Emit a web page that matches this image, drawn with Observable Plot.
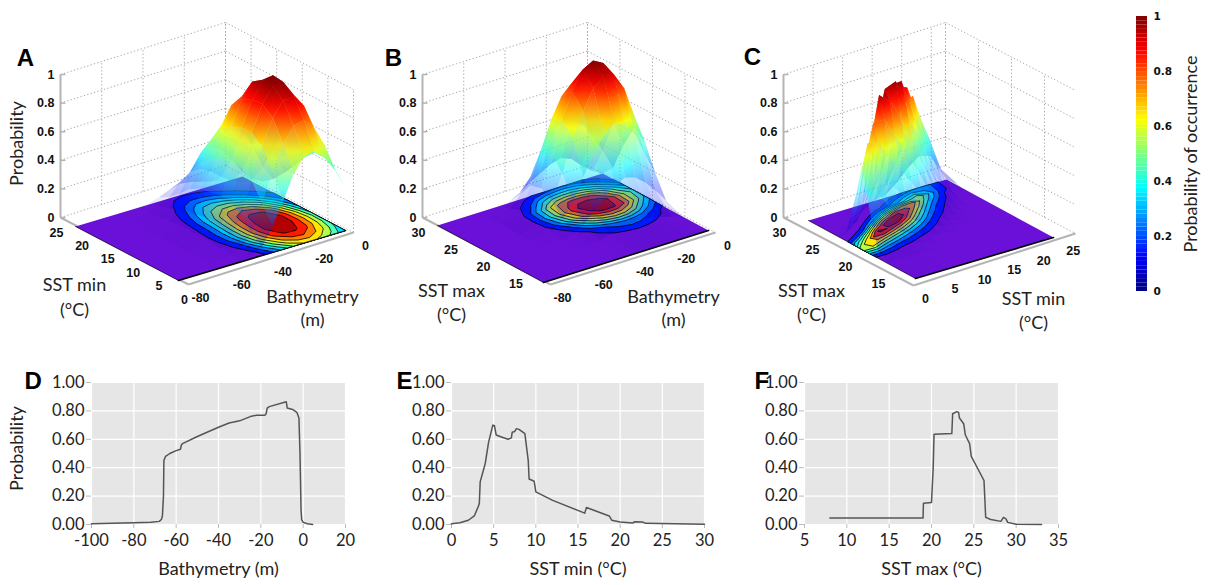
<!DOCTYPE html>
<html><head><meta charset="utf-8">
<script src="https://cdn.jsdelivr.net/npm/d3@7"></script>
<script src="https://cdn.jsdelivr.net/npm/@observablehq/plot@0.6"></script>
<style>html,body{margin:0;background:#fff}#fig{position:relative;width:1210px;height:585px;overflow:hidden}#fig svg{position:absolute;background:transparent;overflow:visible}</style>
</head><body><div id="fig"></div>
<script>
// ---- Surface tables (rows: y axis value, columns: x axis value)
const aBathy=[-80,-60,-50,-45,-40,-35,-30,-25,-20,-15,-10,-5,0];
const aSst=[0,2.5,5,7.5,10,12.5,15,17.5,20,22.5,25];
const aProb=[
[0,0,0,.02,.06,.18,.33,.50,.60,.62,.55,.45,.30],
[0,0,.01,.04,.12,.30,.50,.68,.78,.80,.72,.58,.38],
[0,0,.02,.08,.2,.42,.64,.82,.92,.93,.84,.66,.43],
[0,0,.03,.11,.26,.48,.70,.88,.98,.99,.88,.68,.43],
[0,0,.03,.12,.27,.48,.70,.87,.99,1,.88,.64,.36],
[0,0,.03,.11,.25,.46,.67,.84,.94,.93,.78,.52,.26],
[0,0,.03,.1,.24,.43,.62,.76,.8,.74,.58,.36,.175],
[0,0,.02,.08,.2,.36,.5,.58,.58,.5,.36,.2,.095],
[0,0,.01,.05,.13,.26,.37,.39,.35,.26,.15,.08,.04],
[0,0,.01,.03,.07,.15,.2,.2,.16,.1,.05,.02,.01],
[0,0,0,.01,.03,.06,.08,.07,.05,.03,.01,0,0]];
const bBathy=[-80,-60,-50,-45,-40,-35,-30,-25,-20,-15,-10,-5,0];
const bSst=[10,15,18,20,22,24,26,28,30];
const bProb=[
[0,0,0,0,0,0,0,0,0,0,0,0,0],
[0,0,0,0,.01,.03,.05,.06,.07,.06,.04,.02,0],
[0,0,0,.02,.06,.13,.2,.26,.3,.28,.22,.14,.05],
[0,0,.02,.08,.18,.33,.47,.58,.64,.62,.52,.35,.2],
[0,0,.05,.17,.34,.55,.73,.87,.93,.92,.8,.58,.38],
[0,0,.06,.22,.43,.66,.83,.96,1,.96,.82,.6,.44],
[0,0,.05,.2,.4,.62,.76,.83,.83,.78,.65,.45,.28],
[0,0,.02,.1,.2,.36,.47,.5,.5,.45,.35,.22,.08],
[0,0,0,.01,.05,.1,.14,.18,.2,.17,.1,.04,0]];
const cMin=[0,2,4,6,8,10,12,14,16,18,20,22,25];
const cMax=[10,15,17,18,19,20,21,22,23,24,25,26,27,28,30];
const cProb=[
[0,0,0,0,0,0,0,0,0,0,0,0,0],
[.01,.01,.01,.01,0,0,0,0,0,0,0,0,0],
[.05,.06,.05,.03,.02,0,0,0,0,0,0,0,0],
[.2,.18,.13,.09,.06,.03,.01,0,0,0,0,0,0],
[.38,.38,.27,.2,.14,.09,.05,.02,0,0,0,0,0],
[.58,.6,.46,.36,.27,.19,.12,.06,.02,0,0,0,0],
[.38,.7,.68,.55,.44,.33,.22,.12,.05,.02,0,0,0],
[.21,.48,.8,.8,.66,.52,.37,.22,.1,.04,.01,0,0],
[.05,.2,.55,.95,.88,.74,.56,.36,.18,.08,.02,0,0],
[0,.05,.2,.62,.95,.98,.78,.52,.3,.13,.05,.01,0],
[0,.01,.05,.25,.68,.93,.94,.7,.44,.22,.09,.02,0],
[0,0,.01,.08,.28,.62,.88,.85,.62,.35,.17,.04,0],
[0,0,0,.03,.1,.25,.48,.7,.75,.5,.28,.08,0],
[0,0,0,0,.02,.06,.14,.28,.45,.58,.38,.15,.01],
[0,0,0,0,0,0,0,.02,.08,.16,.22,.2,0]];
// ---- Response curves
const dX=[-100,-80,-72,-68,-67,-66.5,-66,-65.8,-65,-63,-60,-58,-57.5,-57,-50,-40,-35,-30,-25,-22,-18,-17.5,-17,-16,-8,-7.5,-5,-3,-2,-1.5,-1,-.7,0,2,4.5];
const dY=[.005,.012,.016,.022,.035,.06,.2,.45,.48,.5,.52,.53,.56,.57,.62,.685,.715,.73,.76,.77,.77,.78,.82,.83,.865,.82,.81,.79,.75,.5,.1,.035,.015,.005,0];
const eX=[0,1,2,2.7,3.2,3.3,3.4,4,4.4,4.9,5.1,5.3,6,6.7,7.1,7.2,7.5,7.7,8,8.7,9.1,9.2,9.8,10,12,15.8,16,18.7,19,20,21.5,21.7,22.7,23,30];
const eY=[.005,.012,.03,.06,.13,.15,.3,.43,.58,.7,.695,.63,.615,.6,.61,.65,.655,.675,.67,.64,.45,.32,.305,.23,.17,.08,.12,.06,.03,.018,.01,.02,.017,.008,.001];
const fX=[8,19,19.05,20,20.2,20.3,22.4,22.5,23,23.2,23.3,23.8,24,24.5,24.7,26.2,26.4,27,28.2,28.5,28.8,29,30,33];
const fY=[.045,.045,.15,.155,.4,.635,.64,.78,.795,.79,.75,.71,.63,.57,.48,.31,.05,.035,.022,.05,.04,.015,.002,0];
const probTicks=[0,.2,.4,.6,.8,1];
const bathyTicks=[-80,-60,-40,-20,0];
const contourLevels=[.1,.2,.3,.4,.5,.6,.7,.8,.9];

const jetStops=[0,.125,.375,.625,.875,1];
const jetColors=["#000080","#0000ff","#00ffff","#ffff00","#ff0000","#800000"];
const jet=d3.scaleLinear().domain(jetStops).range(jetColors).clamp(true);
const SANS="Lato, 'Open Sans', sans-serif", BOLD="'Liberation Sans', Arial, sans-serif";
const fig=document.getElementById("fig");
function place(svg,left,top){svg.style.left=left+"px";svg.style.top=top+"px";fig.appendChild(svg);}

function surface(cfg){
  const {id,L,W,xs,ys,rows,xDom,yDom,xBox,yBox,floor,box,xTicks,yTicks,texts}=cfg;
  const H=345, Z=143;
  const mix=(f,a,b)=>[f.front[0]+a*(f.right[0]-f.front[0])+b*(f.left[0]-f.front[0]),f.front[1]+a*(f.right[1]-f.front[1])+b*(f.left[1]-f.front[1])];
  const ground=(xv,yv)=>mix(floor,(xv-xDom[0])/(xDom[1]-xDom[0]),(yv-yDom[0])/(yDom[1]-yDom[0]));
  const bx=(xv,yv,p=0)=>{const q=mix(box,(xv-xBox[0])/(xBox[1]-xBox[0]),(yv-yBox[0])/(yBox[1]-yBox[0]));return [q[0],q[1]-p*Z];};
  const seg=(a,b)=>({x1:a[0],y1:a[1],x2:b[0],y2:b[1]});
  // walls
  const walls=[];
  for(const p of probTicks){walls.push(seg(bx(xBox[0],yBox[1],p),bx(xBox[1],yBox[1],p)));walls.push(seg(bx(xBox[1],yBox[1],p),bx(xBox[1],yBox[0],p)));}
  for(const t of xTicks) walls.push(seg(bx(t,yBox[1],0),bx(t,yBox[1],1)));
  for(const t of yTicks) walls.push(seg(bx(xBox[1],t,0),bx(xBox[1],t,1)));
  walls.push(seg(bx(xBox[1],yBox[1],0),bx(xBox[1],yBox[1],1)));
  // floor polygon
  const floorPts=[[xDom[0],yDom[0]],[xDom[1],yDom[0]],[xDom[1],yDom[1]],[xDom[0],yDom[1]],[xDom[0],yDom[0]]].map(d=>ground(d[0],d[1]));
  // contour rings
  const nx=xs.length, ny=ys.length;
  const cx=d3.scaleLinear().domain(xs.map((_,i)=>i+.5)).range(xs).clamp(true);
  const cy=d3.scaleLinear().domain(ys.map((_,i)=>i+.5)).range(ys).clamp(true);
  const rings=[]; let rid=0;
  for(const c of d3.contours().size([nx,ny]).thresholds(contourLevels)(rows.flat())){
    for(const poly of c.coordinates){
      rid++;
      for(const pt of poly[0]){const g=ground(cx(pt[0]),cy(pt[1]));rings.push({id:rid,px:g[0],py:g[1],f:jet(c.value+.05)});}
    }
  }
  // mesh faces, back to front
  const faces=[];
  for(let j=0;j<ny-1;j++)for(let i=0;i<nx-1;i++){
    const v=[[i,j],[i+1,j],[i+1,j+1],[i,j+1]].map(([a,b])=>{const g=ground(xs[a],ys[b]);const p=rows[b][a];return {sx:g[0],sy:g[1]-p*Z,gy:g[1],p};});
    const mx=d3.max(v,d=>d.p); if(mx<.005) continue;
    const m=d3.mean(v,d=>d.p);
    const lo=d3.least(v,d=>d.p), hi=d3.greatest(v,d=>d.p);
    faces.push({v,lo,hi,depth:d3.mean(v,d=>d.gy),alpha:Math.min(.95,m<.1?m*2.3:.12+m*1.1)});
  }
  faces.sort((a,b)=>a.depth-b.depth);
  const meshPts=[];
  faces.forEach((f,k)=>{for(const q of f.v)meshPts.push({id:k,px:q.sx,py:q.sy,f:`url(#${id}g${k})`,a:f.alpha});});
  const defsMark=()=>{
    const defs=d3.create("svg:defs");
    faces.forEach((f,k)=>{
      const g=defs.append("linearGradient").attr("id",`${id}g${k}`).attr("gradientUnits","userSpaceOnUse")
        .attr("x1",f.lo.sx-L).attr("y1",f.lo.sy).attr("x2",f.hi.sx-L).attr("y2",f.hi.sy);
      for(let t=0;t<=4;t++)g.append("stop").attr("offset",t/4).attr("stop-color",jet(f.lo.p+(f.hi.p-f.lo.p)*t/4));
    });
    return defs.node();
  };
  const zAxisTop=bx(xBox[0],yBox[1],1), zAxisBot=bx(xBox[0],yBox[1],0);
  const fr=bx(xBox[0],yBox[0]), ri=bx(xBox[1],yBox[0]), le=bx(xBox[0],yBox[1]);
  const tickX=xTicks.map(t=>{const a=bx(t,yBox[0]);return {t,a};});
  const tickY=yTicks.map(t=>{const a=bx(xBox[0],t);return {t,a};});
  const svg=Plot.plot({width:W,height:H,margin:0,style:{background:"transparent",color:"#111"},
    x:{domain:[L,L+W],range:[0,W],axis:null},y:{domain:[0,H],range:[0,H],axis:null},
    marks:[
      defsMark,
      Plot.link(walls,{x1:"x1",y1:"y1",x2:"x2",y2:"y2",stroke:"#a8a8a8",strokeWidth:1,strokeDasharray:"1.3,2.2"}),
      Plot.link([seg(zAxisTop,zAxisBot),seg(le,fr),seg(fr,ri)],{x1:"x1",y1:"y1",x2:"x2",y2:"y2",stroke:"#b4b4b4",strokeWidth:2}),
      Plot.link(probTicks,{x1:()=>zAxisBot[0],x2:()=>zAxisBot[0]+5,y1:d=>zAxisBot[1]-d*Z,y2:d=>zAxisBot[1]-d*Z,stroke:"#b4b4b4",strokeWidth:1.5}),
      Plot.line(floorPts,{x:"0",y:"1",fill:"#6a10d8",stroke:"none"}),
      Plot.line(floorPts.slice(0,2),{x:"0",y:"1",stroke:"#000",strokeWidth:1.6}),
      Plot.line([floorPts[0],floorPts[3]],{x:"0",y:"1",stroke:"#000",strokeWidth:.7}),
      Plot.line(rings,{x:"px",y:"py",z:"id",fill:{value:d=>d.f,scale:null},stroke:"#000",strokeWidth:.8}),
      Plot.line(meshPts,{x:"px",y:"py",z:"id",fill:{value:d=>d.f,scale:null},fillOpacity:{value:d=>d.a,scale:null},stroke:"none"}),
      Plot.text(probTicks,{x:()=>zAxisBot[0]-6,y:d=>zAxisBot[1]-d*Z,text:d=>String(d),textAnchor:"end",fontFamily:BOLD,fontWeight:"bold",fontSize:12.5}),
      Plot.text(tickX,{x:d=>d.a[0]+12,y:d=>d.a[1]+13,text:d=>String(d.t),fontFamily:BOLD,fontWeight:"bold",fontSize:12.5}),
      Plot.text(tickY,{x:d=>d.a[0]-4,y:d=>d.a[1]+15,text:d=>String(d.t),fontFamily:BOLD,fontWeight:"bold",fontSize:12.5}),
      Plot.text(texts,{x:"x",y:"y",text:"s",fontFamily:SANS,fontSize:18,fill:"#222"}),
      Plot.text([cfg.letter],{x:"x",y:"y",text:"s",fontFamily:BOLD,fontWeight:"bold",fontSize:24,fill:"#000"})
    ]});
  place(svg,L,0);
}

surface({id:"A",L:0,W:375,xs:aBathy,ys:aSst,rows:aProb,xDom:[-80,0],yDom:[0,25],xBox:[-80,0],yBox:[0,25],
  floor:{front:[178,280],right:[345,230],left:[75,226]},box:{front:[188,284],right:[353,232],left:[60,217]},
  xTicks:bathyTicks,yTicks:[0,5,10,15,20,25],letter:{x:25,y:58,s:"A"},
  texts:[{x:74,y:285,s:"SST min"},{x:74,y:310,s:"(°C)"},{x:312,y:297,s:"Bathymetry"},{x:312,y:320,s:"(m)"}]});
surface({id:"B",L:375,W:355,xs:bBathy,ys:bSst,rows:bProb,xDom:[-80,0],yDom:[10,30],xBox:[-80,0],yBox:[10.3,30],
  floor:{front:[543,282],right:[708,230],left:[437,225]},box:{front:[550,284],right:[715,232],left:[422,217]},
  xTicks:bathyTicks,yTicks:[15,20,25,30],letter:{x:393,y:58,s:"B"},
  texts:[{x:451,y:291,s:"SST max"},{x:451,y:315,s:"(°C)"},{x:673,y:297,s:"Bathymetry"},{x:673,y:320,s:"(m)"}]});
surface({id:"C",L:730,W:360,xs:cMin,ys:cMax,rows:cProb,xDom:[0,25],yDom:[10,30],xBox:[0,27.4],yBox:[10.3,30],
  floor:{front:[915,278],right:[1053,237],left:[808,220]},box:{front:[913,285],right:[1075,233],left:[783,217]},
  xTicks:[0,5,10,15,20,25],yTicks:[15,20,25,30],letter:{x:752,y:57,s:"C"},
  texts:[{x:811,y:291,s:"SST max"},{x:811,y:315,s:"(°C)"},{x:1033,y:299,s:"SST min"},{x:1033,y:323,s:"(°C)"}]});

function curve(cfg){
  const {L,W,mL,mR,xd,xt,xs,ys,label,letter,ylabel}=cfg;
  const T=350;
  const pts=xs.map((x,i)=>({x,y:ys[i]}));
  const svg=Plot.plot({width:W,height:235,marginLeft:mL,marginRight:mR,marginTop:32,marginBottom:61,style:{background:"transparent",color:"#222",fontFamily:SANS,fontSize:"16.5px",overflow:"visible"},
    x:{domain:xd},y:{domain:[0,1]},
    marks:[
      Plot.frame({fill:"#e6e6e6",stroke:null}),
      Plot.gridX({ticks:xt,stroke:"#fff",strokeOpacity:1,strokeWidth:1.2}),
      Plot.gridY({ticks:probTicks,stroke:"#fff",strokeOpacity:1,strokeWidth:1.2}),
      Plot.axisX({ticks:xt,tickSize:4,tickPadding:6,stroke:"#bbb",label:null,tickFormat:d=>String(d),fontSize:16.5,fill:"#222"}),
      Plot.axisY({ticks:probTicks,tickSize:5,tickPadding:2,stroke:"#bbb",label:null,tickFormat:d3.format(".2f"),fontSize:16.5,fill:"#222"}),
      Plot.line(pts,{x:"x",y:"y",stroke:"#555",strokeWidth:1.5}),
      Plot.text([label],{frameAnchor:"bottom",dy:50,text:d=>d,fontSize:18,fontFamily:SANS,fill:"#222"}),
      Plot.text([letter],{frameAnchor:"top-left",dx:cfg.lx,dy:-11,text:d=>d,fontFamily:BOLD,fontWeight:"bold",fontSize:24,fill:"#000"})
    ]});
  place(svg,L,T);
}
curve({L:0,W:375,mL:91,mR:30,xd:[-100,20],xt:[-100,-80,-60,-40,-20,0,20],xs:dX,ys:dY,label:"Bathymetry (m)",letter:"D",lx:-67});
curve({L:380,W:345,mL:71,mR:21,xd:[0,30],xt:[0,5,10,15,20,25,30],xs:eX,ys:eY,label:"SST min (°C)",letter:"E",lx:-55});
curve({L:720,W:360,mL:84,mR:22,xd:[5,35],xt:[5,10,15,20,25,30,35],xs:fX,ys:fY,label:"SST max (°C)",letter:"F",lx:-50});

// page-level labels and colour bar
const levels=d3.range(64).map(i=>i/64);
const bar=Plot.plot({width:90,height:320,margin:0,style:{background:"transparent",color:"#111"},
  x:{domain:[1120,1210],range:[0,90],axis:null},y:{domain:[0,1],range:[291,16],axis:null},
  color:{type:"linear",domain:jetStops,range:jetColors},
  marks:[
    Plot.rect(levels,{x1:()=>1136,x2:()=>1147,y1:d=>d,y2:d=>d+1/64,fill:d=>d+1/128}),
    Plot.frame({anchor:null,stroke:"none"}),
    Plot.text(probTicks,{x:()=>1153,y:d=>d,text:d=>String(d),textAnchor:"start",fontFamily:"'DejaVu Sans'",fontWeight:"bold",fontSize:10.5}),
    Plot.text(["Probability of occurrence"],{x:()=>1191,y:()=>.5,text:d=>d,rotate:-90,fontFamily:SANS,fontSize:18,fill:"#222"})
  ]});
place(bar,1120,0);
const side=Plot.plot({width:40,height:585,margin:0,style:{background:"transparent"},x:{domain:[0,40],range:[0,40],axis:null},y:{domain:[0,585],range:[0,585],axis:null},
  marks:[Plot.text([{y:143},{y:448}],{x:()=>17,y:"y",text:()=>"Probability",rotate:-90,fontFamily:SANS,fontSize:18,fill:"#222"})]});
place(side,0,0);
</script></body></html>
